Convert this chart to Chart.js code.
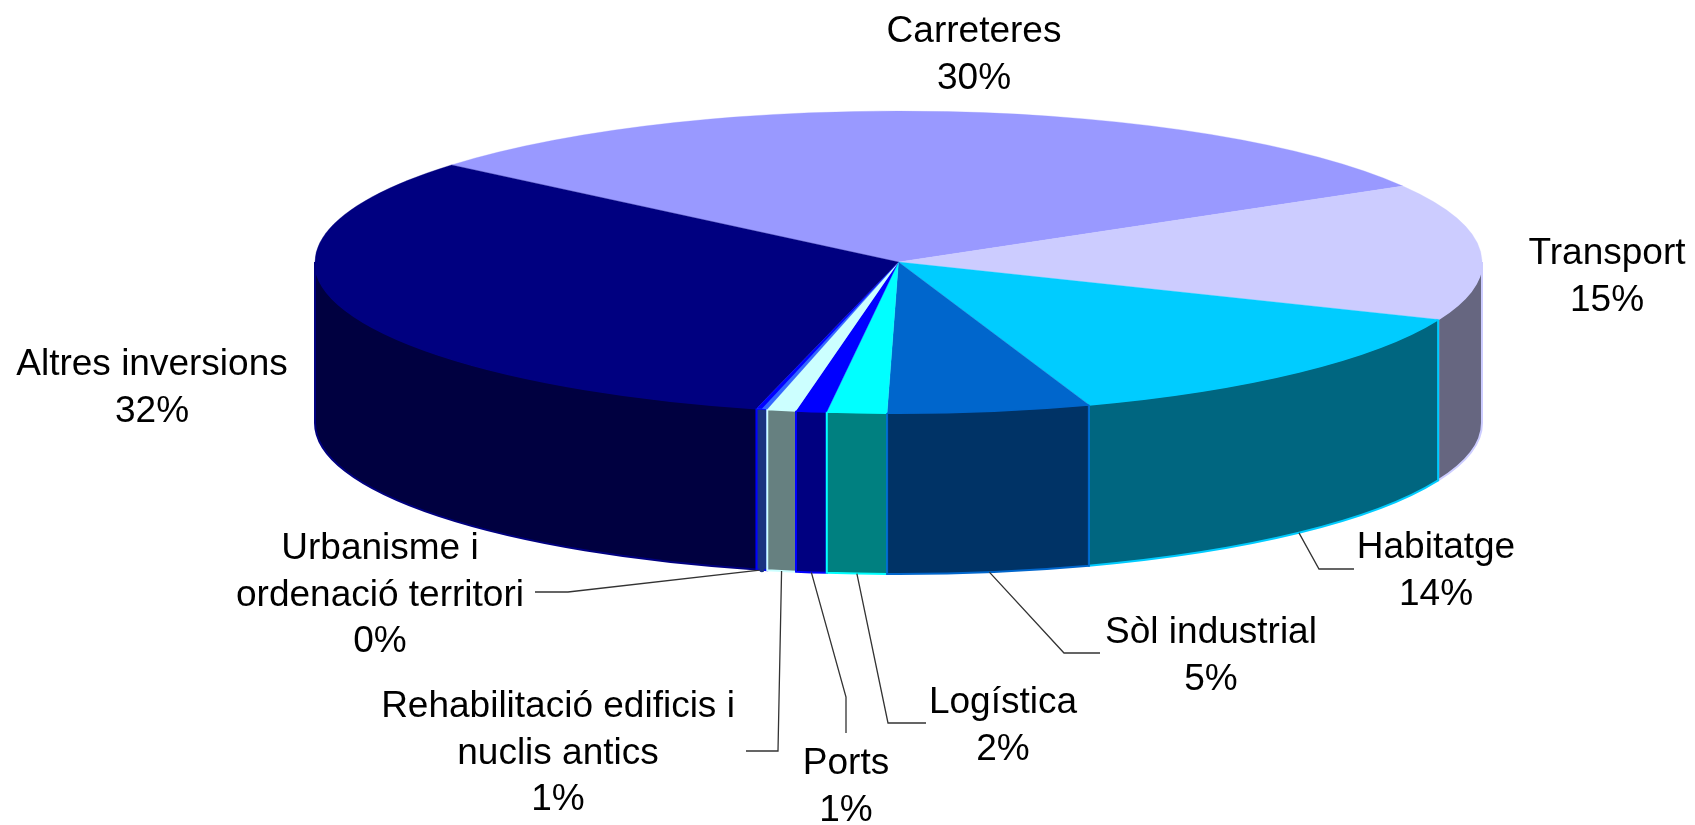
<!DOCTYPE html>
<html>
<head>
<meta charset="utf-8">
<title>Inversions</title>
<script src="https://cdn.jsdelivr.net/npm/chart.js@4"></script>
<style>
    html, body { margin: 0; padding: 0; background: #fff; }
    canvas { display: block; }
</style>
</head>
<body>
<canvas id="myChart" width="1695" height="825"></canvas>
<script>
// Data, in drawing order starting at the Carreteres slice
const categories = [
    ['Carreteres'],
    ['Transport'],
    ['Habitatge'],
    ['Sòl industrial'],
    ['Logística'],
    ['Ports'],
    ['Rehabilitació edificis i', 'nuclis antics'],
    ['Urbanisme i', 'ordenació territori'],
    ['Altres inversions']
];
const values = [30.5, 14.6, 13.5, 5.6, 1.65, 0.85, 0.8, 0.3, 32.2];
const percentLabels = ['30%', '15%', '14%', '5%', '2%', '1%', '1%', '0%', '32%'];

// Colours: top face, side wall, wall outline
const topColors = ['#9999FF', '#CCCCFF', '#00CCFF', '#0066CC', '#00FFFF', '#0000FF', '#CCFFFF', '#3366FF', '#000080'];
const wallColors = ['#4D4D80', '#666680', '#006680', '#003366', '#008080', '#000080', '#668080', '#1A3380', '#000040'];
const wallEdges = ['#9999FF', '#CCCCFF', '#00CCFF', '#0066CC', '#00FFFF', '#0000FF', '#CCFFFF', '#0000FF', '#000080'];

// Walls are painted from the sides towards the front, Sòl industrial last
const wallOrder = [0, 1, 2, 8, 7, 6, 5, 4, 3];

// Label layout: centre x, middle of first line
const labelX = [974, 1607, 1436, 1211, 1003, 846, 558, 380, 152];
const labelY = [32, 254, 548, 633, 703, 764, 707, 549, 365];
const lineHeight = 46.5;

// Leader lines go from the rim of the slice through these points (null = no line)
const leaders = [
    null,
    null,
    [[1319, 569], [1354, 569]],
    [[1064, 653], [1100, 653]],
    [[888, 723], [926, 723]],
    [[846, 697], [846, 733]],
    [[778, 751], [746, 751]],
    [[568, 592], [535, 592]],
    null
];

// Look of the tilted pie
const squash = 151 / 583.5;
const depth = 161;

const pie3d = {
    id: 'pie3d',
    beforeDatasetDraw(chart, args) {
        const ctx = chart.ctx;
        const arcs = args.meta.data;
        const cx = arcs[0].x;
        const cy = arcs[0].y;
        const rx = arcs[0].outerRadius;
        const ry = rx * squash;

        // side walls, only the front half of the rim shows
        wallOrder.forEach(function (i) {
            const arc = arcs[i];
            const a = Math.max(arc.startAngle, 0);
            const b = Math.min(arc.endAngle, Math.PI);
            if (b <= a) return;
            ctx.beginPath();
            ctx.ellipse(cx, cy, rx, ry, 0, a, b);
            ctx.ellipse(cx, cy + depth, rx, ry, 0, b, a, true);
            ctx.closePath();
            ctx.fillStyle = wallColors[i];
            ctx.fill();
            ctx.strokeStyle = wallEdges[i];
            ctx.lineWidth = 2;
            ctx.stroke();
        });

        // top face: let the library draw its arcs in a squashed context
        ctx.save();
        ctx.translate(cx, cy);
        ctx.scale(1, squash);
        ctx.translate(-cx, -cy);
        args.meta.controller.draw();

        // the thin Urbanisme wedge has a darker blue band on its Altres side
        const thin = arcs[7];
        ctx.beginPath();
        ctx.moveTo(cx, cy);
        ctx.arc(cx, cy, rx, (thin.startAngle + thin.endAngle) / 2, thin.endAngle);
        ctx.closePath();
        ctx.fillStyle = wallEdges[7];
        ctx.fill();
        ctx.restore();
        return false;
    },
    afterDatasetsDraw(chart) {
        const ctx = chart.ctx;
        const arcs = chart.getDatasetMeta(0).data;

        // leader lines
        ctx.save();
        ctx.strokeStyle = '#333';
        ctx.lineWidth = 1.3;
        arcs.forEach(function (arc, i) {
            if (!leaders[i]) return;
            const mid = (arc.startAngle + arc.endAngle) / 2;
            const x = arc.x + arc.outerRadius * Math.cos(mid);
            const y = arc.y + arc.outerRadius * squash * Math.sin(mid) + depth;
            ctx.beginPath();
            ctx.moveTo(x, y);
            leaders[i].forEach(function (p) { ctx.lineTo(p[0], p[1]); });
            ctx.stroke();
            if (i === 7) {
                ctx.beginPath();
                ctx.arc(x, y, 2.5, 0, Math.PI * 2);
                ctx.fillStyle = '#1A3380';
                ctx.fill();
            }
        });

        // labels
        ctx.fillStyle = '#000';
        ctx.font = '37px "Liberation Sans", Arial, sans-serif';
        ctx.textAlign = 'center';
        ctx.textBaseline = 'middle';
        categories.forEach(function (lines, i) {
            lines.concat(percentLabels[i]).forEach(function (text, n) {
                ctx.fillText(text, labelX[i], labelY[i] + n * lineHeight);
            });
        });
        ctx.restore();
    }
};

var ctx = document.getElementById('myChart').getContext('2d');
var chart = new Chart(ctx, {
    type: 'pie',
    data: {
        labels: categories.map(function (c) { return c.join(' '); }),
        datasets: [{
            data: values,
            backgroundColor: topColors,
            borderColor: topColors,
            borderWidth: 0.5
        }]
    },
    options: {
        responsive: false,
        animation: false,
        rotation: -50,
        radius: 583.5,
        layout: { padding: { left: 102, bottom: 301 } },
        plugins: {
            legend: { display: false },
            tooltip: { enabled: false }
        }
    },
    plugins: [pie3d]
});
</script>
</body>
</html>
